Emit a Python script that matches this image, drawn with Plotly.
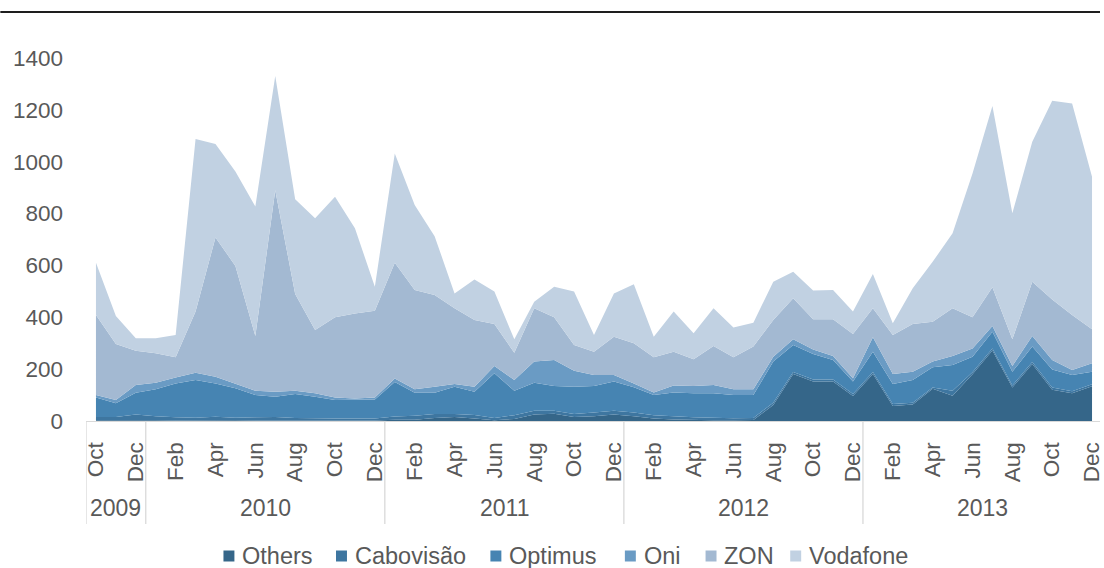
import plotly.graph_objects as go

# ---------------- data ----------------
month_names = ["Oct", "Nov", "Dec"] + ["Jan", "Feb", "Mar", "Apr", "May", "Jun",
                                       "Jul", "Aug", "Sep", "Oct", "Nov", "Dec"] * 4
month_years = [2009] * 3 + [2010] * 12 + [2011] * 12 + [2012] * 12 + [2013] * 12
periods = [f"{m} {y}" for m, y in zip(month_names, month_years)]

year_labels = ["2009", "2010", "2011", "2012", "2013"]

series_names = ["Others", "Cabovisão", "Optimus", "Oni", "ZON", "Vodafone"]

others = [3, 3, 5, 3, 2, 3, 4, 3, 2, 3, 2, 2, 2, 2, 2,
          5, 5, 12, 15, 10, 3, 8, 25, 28, 15, 18, 25, 18,
          10, 6, 4, 3, 3, 4,
          62, 181, 152, 152, 96, 181, 58, 64, 124, 97, 180, 272, 129, 220, 121, 107, 134]
cabovisao = [12, 12, 20, 15, 12, 10, 12, 10, 12, 12, 10, 8, 8, 8, 8,
             12, 15, 15, 12, 13, 9, 14, 15, 12, 12, 15, 15, 15,
             12, 12, 10, 10, 8, 8,
             8, 8, 8, 8, 8, 8, 8, 6, 5, 20, 8, 8, 8, 8, 8, 8, 8]
optimus = [76, 53, 84, 104, 131, 145, 129, 113, 86, 79, 92, 84, 71, 71, 73,
           133, 89, 82, 105, 90, 172, 95, 108, 95, 105, 102, 112, 97,
           78, 92, 93, 94, 89, 88,
           159, 104, 98, 75, 48, 78, 77, 88, 78, 99, 60, 64, 53, 59, 70, 62, 48]
oni = [9, 13, 30, 26, 23, 28, 26, 19, 17, 19, 13, 13, 10, 6, 8,
       14, 13, 23, 11, 19, 28, 41, 81, 100, 62, 42, 25, 15,
       10, 27, 28, 32, 22, 22,
       19, 22, 18, 16, 13, 56, 38, 32, 22, 35, 32, 22, 22, 41, 36, 20, 33]
zon = [309, 216, 132, 113, 78, 236, 537, 453, 211, 777, 373, 244, 309, 328, 334,
       446, 383, 354, 292, 258, 162, 105, 206, 165, 99, 90, 148, 155,
       136, 130, 103, 150, 124, 165,
       142, 158, 116, 141, 171, 112, 151, 184, 154, 184, 120, 150, 103, 209, 234, 212, 131]
vodafone = [201, 108, 48, 58, 86, 666, 360, 364, 499, 441, 365, 431, 465, 328, 93,
            422, 328, 227, 57, 156, 125, 52, 25, 118, 206, 65, 167, 227,
            79, 155, 100, 146, 115, 92,
            147, 103, 111, 113, 86, 132, 45, 138, 231, 289, 555, 699, 486, 540, 766, 816, 588]

series_values = [others, cabovisao, optimus, oni, zon, vodafone]

# ---------------- styles ----------------
colors = ["#356689", "#3e76a0", "#4684b2", "#6a9bc4", "#a3b9d2", "#c1d1e2"]
FONT = "Liberation Sans, Arial, sans-serif"
TXT = "#595959"
W, H = 1104, 568
L, R, T, B = 86, 0, 58, 147
PW = W - L - R
PH = H - T - B


def px_x(p):
    return (p - L) / PW


def px_y(p):
    return (H - B - p) / PH


fig = go.Figure()
for name, vals, col in zip(series_names, series_values, colors):
    fig.add_trace(go.Scatter(
        x=periods, y=vals, name=name, mode="lines",
        stackgroup="one", line=dict(width=0, color=col),
        fillcolor=col, showlegend=False,
        hovertemplate="%{x}: %{y}<extra>" + name + "</extra>",
    ))

# tick labels every other month
tickvals = periods[::2]
ticktext = month_names[::2]

shapes = []
annotations = []

# top border line
shapes.append(dict(type="line", xref="paper", yref="paper",
                   x0=px_x(0), x1=px_x(W), y0=px_y(12), y1=px_y(12),
                   line=dict(color="#1e1e1e", width=2)))

# year group dividers and labels
boundaries = [0]
for k in range(1, len(month_years)):
    if month_years[k] != month_years[k - 1]:
        boundaries.append(k)
boundaries.append(len(month_years))
for b in boundaries:
    shapes.append(dict(type="line", xref="x", yref="paper",
                       x0=b - 0.5, x1=b - 0.5, y0=0, y1=px_y(524),
                       line=dict(color="#d9d9d9", width=1.3)))
for j, yl in enumerate(year_labels):
    s, e = boundaries[j], boundaries[j + 1] - 1
    annotations.append(dict(x=(s + e) / 2, xref="x", y=px_y(508), yref="paper",
                            text=yl, showarrow=False, xanchor="center", yanchor="middle",
                            font=dict(family=FONT, size=23, color=TXT)))

# manual legend with square keys
legend_sq_x = [224, 337, 492, 627, 708, 793]
sq = 11
ly = 556
for name, col, x0 in zip(series_names, colors, legend_sq_x):
    shapes.append(dict(type="rect", xref="paper", yref="paper",
                       x0=px_x(x0), x1=px_x(x0 + sq),
                       y0=px_y(ly + sq / 2), y1=px_y(ly - sq / 2),
                       fillcolor=col, line=dict(width=0)))
    annotations.append(dict(x=px_x(x0 + sq + 6), xref="paper", y=px_y(ly), yref="paper",
                            text=name, showarrow=False, xanchor="left", yanchor="middle",
                            font=dict(family=FONT, size=23.5, color=TXT)))

fig.update_layout(
    width=W, height=H,
    margin=dict(l=L, r=R, t=T, b=B, pad=0),
    paper_bgcolor="white", plot_bgcolor="white",
    showlegend=False,
    font=dict(family=FONT, size=22.5, color=TXT),
    xaxis=dict(type="category", range=[-0.5, len(periods) - 1 + 0.4],
               tickmode="array", tickvals=tickvals, ticktext=ticktext,
               tickangle=-90, showgrid=False, zeroline=False,
               showline=True, linecolor="#d9d9d9", linewidth=1.3,
               ticks="", ticklabelstandoff=11,
               tickfont=dict(family=FONT, size=22.5, color=TXT)),
    yaxis=dict(range=[0, 1400], tickmode="array",
               tickvals=[0, 200, 400, 600, 800, 1000, 1200, 1400],
               showgrid=False, zeroline=False, showline=False, ticks="",
               ticklabelstandoff=22,
               tickfont=dict(family=FONT, size=22.5, color=TXT)),
    shapes=shapes, annotations=annotations,
)

fig.write_html("out.html",
               config={"displayModeBar": False},
               post_script="document.body.style.margin='0';document.body.style.overflow='hidden';")
